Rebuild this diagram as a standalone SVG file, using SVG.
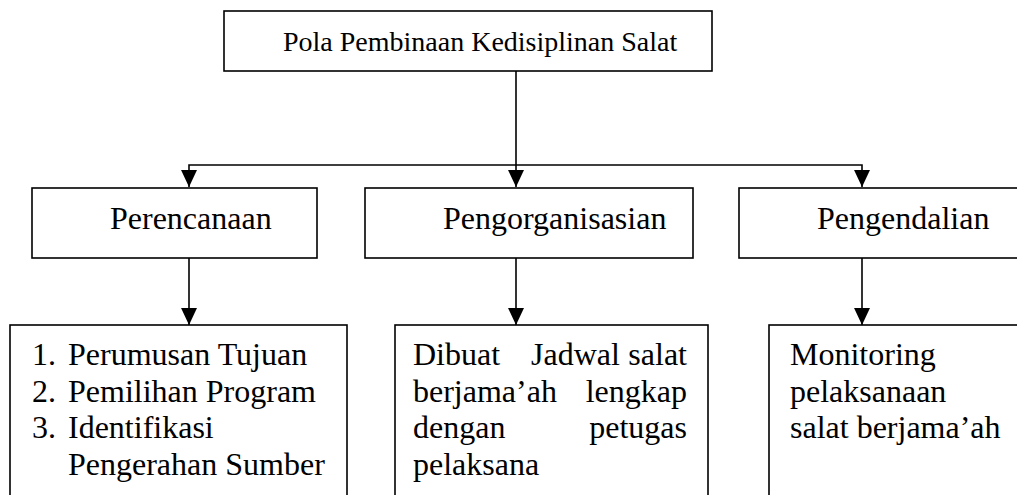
<svg xmlns="http://www.w3.org/2000/svg" width="1017" height="495" viewBox="0 0 1017 495">
  <style>
    .box { fill: #ffffff; stroke: #000000; stroke-width: 1.6; }
    .line { fill: none; stroke: #000000; stroke-width: 1.6; }
    .lbl { font-family: 'Liberation Serif', 'DejaVu Serif', serif; fill: #000000; }
    .t28 { font-size: 28px; }
    .t32 { font-size: 32px; }
    .end { text-anchor: end; }
  </style>
  <defs>
    <!-- filled triangular head pointing along the path direction -->
    <marker id="arrow" markerUnits="userSpaceOnUse" markerWidth="17" markerHeight="16" refX="16" refY="7.5" orient="auto" viewBox="0 0 16 15">
      <path d="M0,0 L16,7.5 L0,15 Z" fill="#000000"/>
    </marker>
  </defs>

  <rect width="1017" height="495" fill="#ffffff"/>

  <!-- connectors -->
  <g id="connectors">
    <line class="line" x1="516" y1="71" x2="516" y2="187" marker-end="url(#arrow)"/>
    <polyline class="line" points="516,165 189,165 189,187" marker-end="url(#arrow)"/>
    <polyline class="line" points="516,165 862,165 862,187" marker-end="url(#arrow)"/>
    <line class="line" x1="189" y1="258" x2="189" y2="325" marker-end="url(#arrow)"/>
    <line class="line" x1="516" y1="258" x2="516" y2="325" marker-end="url(#arrow)"/>
    <line class="line" x1="862" y1="258" x2="862" y2="325" marker-end="url(#arrow)"/>
  </g>

  <!-- root -->
  <g id="pola">
    <rect class="box" x="224" y="11" width="488" height="60"/>
    <text class="lbl t28" font-family="Liberation Serif" x="283" y="51">Pola Pembinaan Kedisiplinan Salat</text>
  </g>

  <!-- second level -->
  <g id="perencanaan">
    <rect class="box" x="32" y="188" width="285" height="70"/>
    <text class="lbl t32" x="110" y="228.5">Perencanaan</text>
  </g>
  <g id="pengorganisasian">
    <rect class="box" x="365" y="188" width="328" height="70"/>
    <text class="lbl t32" x="443" y="228.5">Pengorganisasian</text>
  </g>
  <g id="pengendalian">
    <rect class="box" x="739" y="188" width="290" height="70"/>
    <text class="lbl t32" x="817" y="228.5">Pengendalian</text>
  </g>

  <!-- third level -->
  <g id="langkah-perencanaan">
    <rect class="box" x="10" y="325" width="337" height="190"/>
    <text class="lbl t32" x="32" y="365">1.</text>
    <text class="lbl t32" x="68" y="365">Perumusan Tujuan</text>
    <text class="lbl t32" x="32" y="401.5">2.</text>
    <text class="lbl t32" x="68" y="401.5">Pemilihan Program</text>
    <text class="lbl t32" x="32" y="438">3.</text>
    <text class="lbl t32" x="68" y="438">Identifikasi</text>
    <text class="lbl t32" x="68" y="474.5">Pengerahan Sumber</text>
  </g>
  <g id="jadwal">
    <rect class="box" x="395" y="325" width="313" height="190"/>
    <text class="lbl t32" x="413" y="365">Dibuat</text>
    <text class="lbl t32" x="531" y="365">Jadwal</text>
    <text class="lbl t32 end" x="687" y="365">salat</text>
    <text class="lbl t32" x="413" y="401.5">berjama’ah</text>
    <text class="lbl t32 end" x="687" y="401.5">lengkap</text>
    <text class="lbl t32" x="413" y="438">dengan</text>
    <text class="lbl t32 end" x="687" y="438">petugas</text>
    <text class="lbl t32" x="413" y="474.5">pelaksana</text>
  </g>
  <g id="monitoring">
    <rect class="box" x="769" y="325" width="260" height="190"/>
    <text class="lbl t32" x="790" y="365">Monitoring</text>
    <text class="lbl t32" x="790" y="401.5">pelaksanaan</text>
    <text class="lbl t32" x="790" y="438">salat berjama’ah</text>
  </g>
</svg>
